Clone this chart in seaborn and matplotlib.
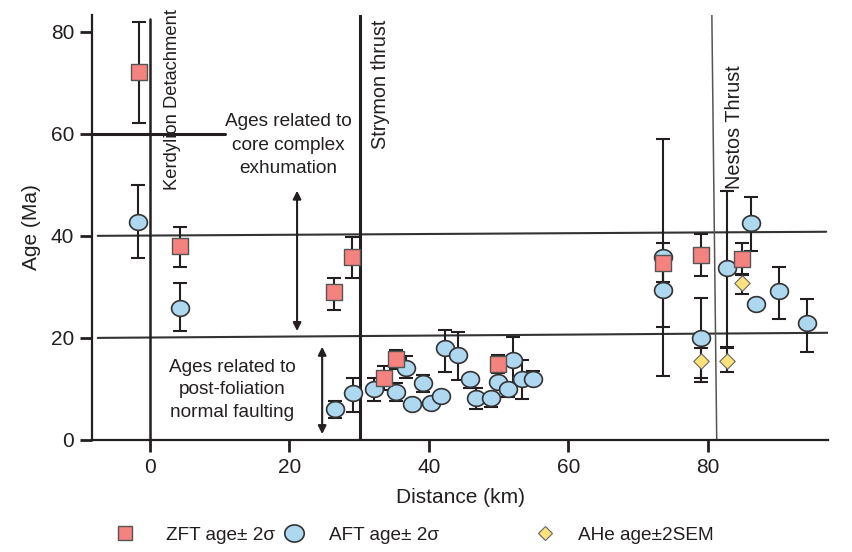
import numpy as np
import pandas as pd
import seaborn as sns
import matplotlib.pyplot as plt
from matplotlib.path import Path
from matplotlib.lines import Line2D

# ZFT ages (distance km, age Ma, lower and upper 2 sigma limits)
zft_dist = [-1.6, 4.3, 26.4, 29.0, 33.6, 35.3, 49.9, 73.6, 79.1, 84.9]
zft_age = [72.2, 38.0, 29.0, 35.9, 12.2, 15.9, 14.9, 34.7, 36.3, 35.5]
zft_lo = [62.2, 33.9, 25.5, 31.8, 9.8, 14.0, 13.1, 31.0, 32.2, 32.4]
zft_hi = [82.0, 41.8, 31.8, 39.8, 14.5, 17.6, 16.7, 38.6, 40.4, 38.6]

# AFT ages
aft_dist = [-1.7, 4.3, 26.5, 29.1, 32.1, 35.3, 36.7, 37.6, 39.2, 40.3, 41.7,
            42.3, 44.2, 45.9, 46.8, 48.9, 49.9, 51.4, 52.1, 53.4, 54.9,
            73.6, 73.6, 79.1, 82.8, 86.2, 87.0, 90.2, 94.3]
aft_age = [42.7, 25.8, 6.0, 9.2, 10.0, 9.4, 14.1, 7.1, 11.2, 7.3, 8.6,
           18.0, 16.7, 12.0, 8.3, 8.3, 11.4, 10.0, 15.7, 12.0, 12.0,
           35.9, 29.4, 20.0, 33.7, 42.5, 26.7, 29.2, 22.9]
aft_lo = [35.7, 21.4, 4.3, 5.5, 7.6, 7.6, 12.1, 7.1, 9.4, 7.3, 8.6,
          13.3, 11.8, 10.2, 6.1, 6.5, 11.4, 8.4, 11.0, 8.0, 12.0,
          12.5, 22.2, 12.2, 18.3, 37.1, 26.7, 23.7, 17.3]
aft_hi = [50.0, 30.7, 7.6, 12.1, 12.1, 11.2, 16.5, 7.1, 12.7, 7.3, 8.6,
          21.6, 21.2, 12.0, 10.2, 8.3, 13.1, 10.0, 20.2, 15.7, 13.5,
          59.0, 36.6, 27.8, 48.8, 47.7, 26.7, 33.9, 27.7]

# AHe ages
ahe_dist = [79.1, 82.8, 84.9]
ahe_age = [15.5, 15.5, 30.8]
ahe_lo = [11.4, 13.3, 28.6]
ahe_hi = [18.0, 18.0, 32.6]

labels = ['ZFT age± 2σ', 'AFT age± 2σ', 'AHe age±2SEM']

sns.set_style('ticks')
plt.rcParams['font.family'] = ['Liberation Sans', 'DejaVu Sans']
dark = '#231f20'

zft = pd.DataFrame({'dist': zft_dist, 'age': zft_age, 'lo': zft_lo, 'hi': zft_hi})
aft = pd.DataFrame({'dist': aft_dist, 'age': aft_age, 'lo': aft_lo, 'hi': aft_hi})
ahe = pd.DataFrame({'dist': ahe_dist, 'age': ahe_age, 'lo': ahe_lo, 'hi': ahe_hi})

# slightly flattened circle marker
t = np.linspace(0, 2 * np.pi, 60)
ellipse = Path(np.column_stack([np.cos(t), 0.88 * np.sin(t)]), closed=True)

fig = plt.figure(figsize=(8.53, 5.52), dpi=100)
ax = fig.add_axes([0.108, 0.203, 0.863, 0.770])

# structure lines
ax.plot([-8.3, 10.8], [60, 60], color=dark, lw=2.2, zorder=1)
ax.plot([-7.5, 97.0], [40, 40.8], color='#333333', lw=1.5, zorder=1)
ax.plot([-7.5, 97.3], [20, 21.0], color='#333333', lw=1.5, zorder=1)
ax.plot([0, 0], [0, 82.4], color=dark, lw=1.8, zorder=1)
ax.plot([30.1, 30.1], [0, 83.3], color=dark, lw=2.2, zorder=1)
ax.plot([80.6, 81.3], [83.3, 0], color='#555555', lw=1.1, zorder=1)

# error bars
for df in [aft, zft, ahe]:
    ax.errorbar(df['dist'], df['age'], yerr=[df['age'] - df['lo'], df['hi'] - df['age']],
                fmt='none', ecolor=dark, elinewidth=1.5, capsize=4.7, capthick=1.5, zorder=2)

sns.scatterplot(data=aft, x='dist', y='age', marker=ellipse, s=165, color='#aed8f0',
                edgecolor='#333333', linewidth=1.2, ax=ax, zorder=3)
sns.scatterplot(data=zft, x='dist', y='age', marker='s', s=125, color='#f4827e',
                edgecolor='#555555', linewidth=1.0, ax=ax, zorder=4)
sns.scatterplot(data=ahe, x='dist', y='age', marker='D', s=62, color='#fbe27a',
                edgecolor='#666666', linewidth=0.8, ax=ax, zorder=5)

# annotations
ax.text(3.2, 66.7, 'Kerdylion Detachment', rotation=90, ha='center', va='center',
        fontsize=13.2, color=dark)
ax.text(33.1, 69.6, 'Strymon thrust', rotation=90, ha='center', va='center',
        fontsize=14.3, color=dark)
ax.text(83.8, 61.4, 'Nestos Thrust', rotation=90, ha='center', va='center',
        fontsize=14.3, color=dark)
ax.text(19.8, 57.8, 'Ages related to\ncore complex\nexhumation', ha='center', va='center',
        fontsize=13.7, color=dark, linespacing=1.5)
ax.text(11.8, 9.8, 'Ages related to\npost-foliation\nnormal faulting', ha='center', va='center',
        fontsize=13.7, color=dark, linespacing=1.45)
ax.annotate('', xy=(21.1, 49.4), xytext=(21.1, 20.8),
            arrowprops=dict(arrowstyle='<|-|>', color=dark, lw=1.5, mutation_scale=12))
ax.annotate('', xy=(24.7, 18.8), xytext=(24.7, 0.6),
            arrowprops=dict(arrowstyle='<|-|>', color=dark, lw=1.5, mutation_scale=12))

ax.set_xlim(-8.3, 97.3)
ax.set_ylim(0, 83.3)
ax.set_xticks([0, 20, 40, 60, 80])
ax.set_yticks([0, 20, 40, 60, 80])
ax.set_xlabel('Distance (km)', fontsize=15, color=dark, labelpad=8)
ax.set_ylabel('Age (Ma)', fontsize=15, color=dark, labelpad=7)
ax.tick_params(axis='both', labelsize=15, length=8.5, width=2, colors=dark, pad=4.5)
sns.despine(ax=ax)
for side in ['left', 'bottom']:
    ax.spines[side].set_linewidth(1.6)
    ax.spines[side].set_color(dark)

# legend below the axes, three separate entries
handles = [
    Line2D([], [], ls='none', marker='s', ms=10, mfc='#f4827e', mec='#555555', mew=1.0),
    Line2D([], [], ls='none', marker=ellipse, ms=14, mfc='#aed8f0', mec='#333333', mew=1.2),
    Line2D([], [], ls='none', marker='D', ms=7.5, mfc='#fbe27a', mec='#666666', mew=0.8),
]
for h, lab, xpos, pad in zip(handles, labels, [0.1355, 0.334, 0.628], [1.63, 1.31, 1.2]):
    fig.legend([h], [lab], loc='center left', bbox_to_anchor=(xpos, 0.031), frameon=False,
               fontsize=13.7, handlelength=1.0, handletextpad=pad, borderpad=0,
               borderaxespad=0, labelcolor=dark)

fig.savefig('out.png', dpi=100)
